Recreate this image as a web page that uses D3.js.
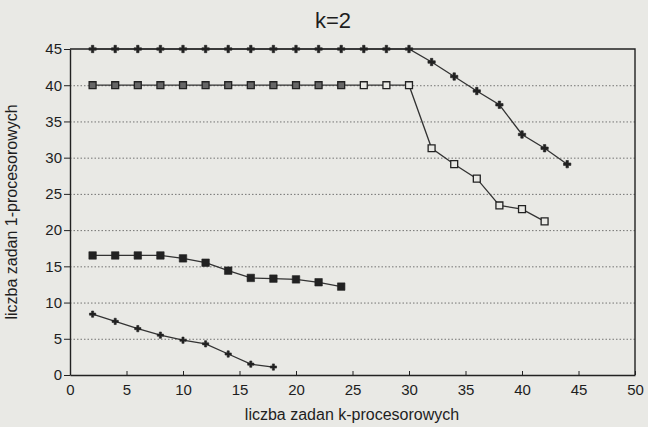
<!DOCTYPE html>
<html lang="pl">
<head>
<meta charset="UTF-8" />
<script src="https://d3js.org/d3.v7.min.js"></script>
<style>
  body { margin: 0; background: #e9e9e5; }
  svg text { font-family: "Liberation Sans", Arial, sans-serif; fill: #1e1e1e; }
  .gridlines line { stroke: #555; stroke-dasharray: 1.5 2; stroke-width: 0.8; }
  .gridlines .domain { stroke: none; }
  .axis .domain { stroke: #222; stroke-width: 1.4; }
  .axis line { stroke: #222; }
</style>
</head>
<body>
<svg id="chart" width="648" height="427"></svg>
<script>
  // values
  const xTop = [2, 4, 6, 8, 10, 12, 14, 16, 18, 20, 22, 24, 26, 28, 30, 32, 34, 36, 38, 40, 42, 44];
  const yTop = [45, 45, 45, 45, 45, 45, 45, 45, 45, 45, 45, 45, 45, 45, 45, 43.2, 41.2, 39.2, 37.3, 33.2, 31.3, 29.1];

  const xOpen = [2, 4, 6, 8, 10, 12, 14, 16, 18, 20, 22, 24, 26, 28, 30, 32, 34, 36, 38, 40, 42];
  const yOpen = [40, 40, 40, 40, 40, 40, 40, 40, 40, 40, 40, 40, 40, 40, 40, 31.3, 29.1, 27.1, 23.4, 22.9, 21.2];

  const xFilled = [2, 4, 6, 8, 10, 12, 14, 16, 18, 20, 22, 24];
  const yFilled = [16.5, 16.5, 16.5, 16.5, 16.1, 15.5, 14.4, 13.4, 13.3, 13.2, 12.8, 12.2];

  const xLow = [2, 4, 6, 8, 10, 12, 14, 16, 18];
  const yLow = [8.4, 7.4, 6.4, 5.5, 4.8, 4.3, 2.9, 1.5, 1.1];

  const xTicks = [0, 5, 10, 15, 20, 25, 30, 35, 40, 45, 50];
  const yTicks = [0, 5, 10, 15, 20, 25, 30, 35, 40, 45];

  const svg = d3.select("#chart");
  const width = +svg.attr("width");
  const height = +svg.attr("height");
  const margin = { top: 49, right: 13, bottom: 52, left: 70 };
  const chartWidth = width - margin.left - margin.right;
  const chartHeight = height - margin.top - margin.bottom;

  const xScale = d3.scaleLinear().domain([0, 50]).range([0, chartWidth]);
  const yScale = d3.scaleLinear().domain([0, 45]).range([chartHeight, 0]);

  const chart = svg.append("g")
    .attr("transform", `translate(${margin.left},${margin.top})`);

  // dotted gridlines
  chart.append("g")
    .attr("class", "gridlines")
    .call(d3.axisLeft(yScale).tickValues(yTicks.filter(v => v > 0 && v < 45))
      .tickSize(-chartWidth).tickFormat(""));

  // frame (top + right)
  chart.append("path")
    .attr("d", `M0,0H${chartWidth}V${chartHeight}`)
    .attr("fill", "none").attr("stroke", "#222").attr("stroke-width", 1.4);

  const xAxis = chart.append("g")
    .attr("class", "axis")
    .attr("transform", `translate(0,${chartHeight})`)
    .call(d3.axisBottom(xScale).tickValues(xTicks).tickSize(-4).tickSizeOuter(0).tickPadding(9));
  xAxis.selectAll("text").attr("font-size", "15px");

  const yAxis = chart.append("g")
    .attr("class", "axis")
    .call(d3.axisLeft(yScale).tickValues(yTicks).tickSize(6).tickSizeOuter(0).tickPadding(2));
  yAxis.selectAll("text").attr("font-size", "15px");

  const line = d3.line().x(d => xScale(d[0])).y(d => yScale(d[1]));
  const zip = (xs, ys) => xs.map((x, i) => [x, ys[i]]);

  const series = [
    { pts: zip(xTop, yTop), sym: d3.symbolCross, size: 30, fill: "#222" },
    { pts: zip(xOpen, yOpen), sym: d3.symbolSquare, size: 48, fill: "open" },
    { pts: zip(xFilled, yFilled), sym: d3.symbolSquare, size: 56, fill: "#222" },
    { pts: zip(xLow, yLow), sym: d3.symbolCross, size: 22, fill: "#222" }
  ];

  series.forEach(s => {
    chart.append("path")
      .datum(s.pts)
      .attr("d", line)
      .attr("fill", "none")
      .attr("stroke", "#333")
      .attr("stroke-width", 1.3);
    chart.selectAll(null).data(s.pts).join("path")
      .attr("transform", d => `translate(${xScale(d[0])},${yScale(d[1])})`)
      .attr("d", d3.symbol().type(s.sym).size(s.size))
      .attr("fill", d => s.fill === "open" ? (d[0] <= 24 ? "#666" : "#e9e9e5") : s.fill)
      .attr("stroke", "#222")
      .attr("stroke-width", s.fill === "open" ? 1.3 : 0.6);
  });

  svg.append("text")
    .attr("x", 333).attr("y", 28)
    .attr("text-anchor", "middle")
    .attr("font-size", "22px")
    .text("k=2");

  svg.append("text")
    .attr("x", 352).attr("y", 420)
    .attr("text-anchor", "middle")
    .attr("font-size", "16px")
    .text("liczba zadan k-procesorowych");

  svg.append("text")
    .attr("transform", `translate(17,${margin.top + chartHeight / 2}) rotate(-90)`)
    .attr("text-anchor", "middle")
    .attr("font-size", "16px")
    .text("liczba zadan 1-procesorowych");
</script>
</body>
</html>
